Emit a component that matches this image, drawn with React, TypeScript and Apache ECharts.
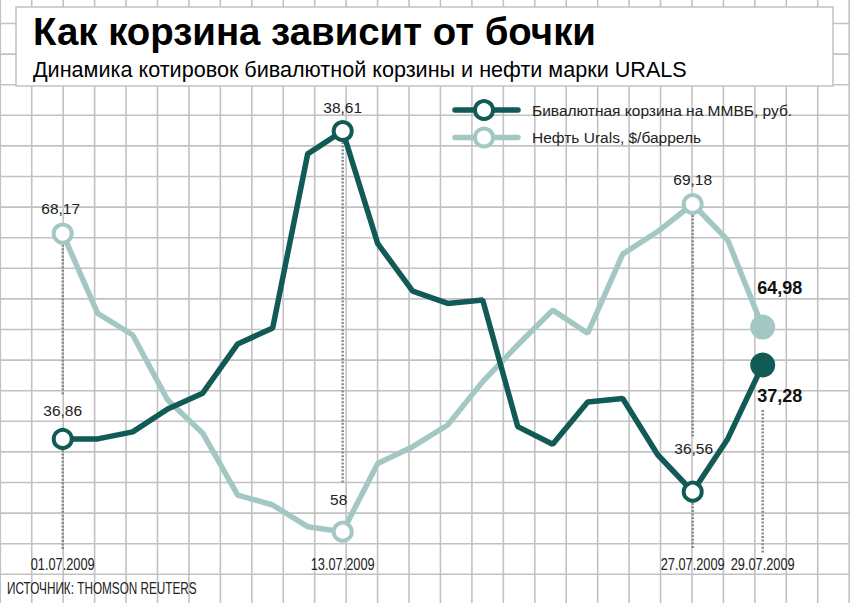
import React, { useEffect, useRef } from "react";
import * as echarts from "echarts";

// Trading days of July 2009
const dates = [
  "01.07.2009", "02.07.2009", "03.07.2009", "06.07.2009", "07.07.2009",
  "08.07.2009", "09.07.2009", "10.07.2009", "13.07.2009", "14.07.2009",
  "15.07.2009", "16.07.2009", "17.07.2009", "20.07.2009", "21.07.2009",
  "22.07.2009", "23.07.2009", "24.07.2009", "27.07.2009", "28.07.2009",
  "29.07.2009",
];
// Бивалютная корзина на ММВБ, руб.
const basket = [
  36.86, 36.86, 36.9, 37.03, 37.12, 37.4, 37.49, 38.48, 38.61, 37.97, 37.7,
  37.63, 37.65, 36.93, 36.83, 37.07, 37.09, 36.77, 36.56, 36.86, 37.28,
];
// Нефть Urals, $/баррель
const oil = [
  68.17, 65.45, 64.71, 62.49, 61.36, 59.25, 58.91, 58.17, 58.0, 60.33, 60.9,
  61.64, 63.12, 64.37, 65.56, 64.77, 67.47, 68.24, 69.18, 67.95, 64.98,
];
const shownDates = ["01.07.2009", "13.07.2009", "27.07.2009", "29.07.2009"];
const markedIdx = [0, 8, 18];
const lastIdx = 20;

const TITLE = "Как корзина зависит от бочки";
const SUBTITLE = "Динамика котировок бивалютной корзины и нефти марки URALS";
const LEGEND = ["Бивалютная корзина на ММВБ, руб.", "Нефть Urals, $/баррель"];
const SOURCE = "ИСТОЧНИК: THOMSON REUTERS";

const DARK = "#115a55";
const LIGHT = "#a3c7c3";
const GRIDC = "#c2c2c2";
const FONT = "'Liberation Sans', Arial, sans-serif";

const darkOffsets: Record<number, number[]> = { 0: [0, -28], 8: [0, -23], 18: [1, -43], 20: [17, 31] };
const lightOffsets: Record<number, number[]> = { 0: [-2, -25], 8: [-4, -32], 18: [0, -24], 20: [17, -39] };

function buildData(values: number[], color: string, offsets: Record<number, number[]>) {
  return values.map((v, i) => {
    if (markedIdx.includes(i)) {
      return {
        value: v,
        symbolSize: 18,
        itemStyle: { color: "#fff", borderColor: color, borderWidth: 4 },
        label: { show: true, offset: offsets[i] },
      };
    }
    if (i === lastIdx) {
      return {
        value: v,
        symbolSize: 25,
        itemStyle: { color: color, borderWidth: 0 },
        label: { show: true, offset: offsets[i], fontWeight: "bold", fontSize: 18, color: "#111" },
      };
    }
    return { value: v, symbolSize: 0 };
  });
}

export default function App() {
  const ref = useRef<HTMLDivElement>(null);
  useEffect(() => {
    if (!ref.current) return;
    const chart = echarts.init(ref.current, undefined, { renderer: "svg" });
    const labelBase = {
      show: false,
      position: "inside",
      align: "center",
      verticalAlign: "middle",
      fontFamily: FONT,
      fontSize: 15.5,
      color: "#222",
      formatter: (p: any) => String(p.value).replace(".", ","),
    };
    chart.setOption({
      animation: false,
      backgroundColor: "#fff",
      grid: { left: 62.7, right: 87.3, top: 0, bottom: 0 },
      xAxis: {
        type: "category",
        data: dates,
        boundaryGap: false,
        show: false,
      },
      yAxis: [
        { type: "value", min: 35.9274, max: 39.3545, show: false },
        { type: "value", min: 55.567, max: 76.14, show: false },
      ],
      series: [
        {
          name: LEGEND[1],
          type: "line",
          yAxisIndex: 1,
          data: buildData(oil, LIGHT, lightOffsets),
          symbol: "circle",
          showSymbol: true,
          showAllSymbol: true,
          lineStyle: { color: LIGHT, width: 5.5, cap: "round" },
          itemStyle: { color: LIGHT },
          label: labelBase,
          z: 3,
        },
        {
          name: LEGEND[0],
          type: "line",
          yAxisIndex: 0,
          data: buildData(basket, DARK, darkOffsets),
          symbol: "circle",
          showSymbol: true,
          showAllSymbol: true,
          lineStyle: { color: DARK, width: 5.5, cap: "round" },
          itemStyle: { color: DARK },
          label: labelBase,
          z: 4,
        },
      ],
    });

    const px = (series: number, i: number, v: number) =>
      chart.convertToPixel({ seriesIndex: series }, [i, v]) as number[];

    const els: any[] = [];
    // background squared grid
    for (let k = 0; k <= 27; k++) {
      const x = 0.3 + 31.44 * k;
      els.push({ type: "line", z: 0, silent: true, shape: { x1: x, y1: 0, x2: x, y2: 603 }, style: { stroke: GRIDC, lineWidth: 1.6 } });
    }
    for (let k = 0; k <= 18; k++) {
      const y = 23.5 + 30.6 * k;
      els.push({ type: "line", z: 0, silent: true, shape: { x1: 0, y1: y, x2: 850, y2: y }, style: { stroke: GRIDC, lineWidth: 1.6 } });
    }
    // title box
    els.push({ type: "rect", z: 1, shape: { x: 16, y: 7, width: 817, height: 79 }, style: { fill: "#fff", stroke: GRIDC, lineWidth: 1.5 } });
    els.push({ type: "text", z: 2, x: 33, y: 31.5, style: { text: TITLE, fontFamily: FONT, fontWeight: "bold", fontSize: 38.4, fill: "#000", align: "left", verticalAlign: "middle" } });
    els.push({ type: "text", z: 2, x: 33, y: 69.2, style: { text: SUBTITLE, fontFamily: FONT, fontSize: 21.6, fill: "#000", align: "left", verticalAlign: "middle" } });

    // legend
    const legendRows = [
      { y: 110, color: DARK, text: LEGEND[0] },
      { y: 137.5, color: LIGHT, text: LEGEND[1] },
    ];
    legendRows.forEach((r) => {
      els.push({ type: "line", z: 2, shape: { x1: 455, y1: r.y, x2: 518, y2: r.y }, style: { stroke: r.color, lineWidth: 5.5, lineCap: "round" } });
      els.push({ type: "circle", z: 3, shape: { cx: 484, cy: r.y, r: 9 }, style: { fill: "#fff", stroke: r.color, lineWidth: 4 } });
      els.push({ type: "text", z: 3, x: 532, y: r.y, style: { text: r.text, fontFamily: FONT, fontSize: 15.5, fill: "#222", align: "left", verticalAlign: "middle" } });
    });

    // dotted drop lines
    const dot = (x: number, y1: number, y2: number) =>
      els.push({ type: "line", z: 1, silent: true, shape: { x1: x, y1, x2: x, y2 }, style: { stroke: "#8c8c8c", lineWidth: 2.5, lineDash: [2, 1.6] } });
    const BASE = 549;
    {
      const d = px(1, 0, basket[0]);
      const o = px(0, 0, oil[0]);
      dot(d[0], o[1] + 11, d[1] - 44);
      dot(d[0], d[1] + 11, BASE);
    }
    {
      const d = px(1, 8, basket[8]);
      const o = px(0, 8, oil[8]);
      dot(d[0], d[1] + 11, o[1] - 48);
    }
    {
      const d = px(1, 18, basket[18]);
      const o = px(0, 18, oil[18]);
      dot(d[0], o[1] + 11, d[1] - 55);
      dot(d[0], d[1] + 11, BASE);
    }
    {
      const d = px(1, 20, basket[20]);
      dot(d[0], d[1] + 45, 554);
    }

    // date labels
    shownDates.forEach((dt) => {
      const i = dates.indexOf(dt);
      const p = px(1, i, basket[i]);
      els.push({ type: "text", z: 3, x: p[0], y: 564, scaleX: 0.8, style: { text: dt, x: 0, y: 0, fontFamily: FONT, fontSize: 16, fill: "#222", align: "center", verticalAlign: "middle" } });
    });
    els.push({ type: "text", z: 3, x: 7, y: 588, scaleX: 0.735, style: { text: SOURCE, x: 0, y: 0, fontFamily: FONT, fontSize: 16, fill: "#222", align: "left", verticalAlign: "middle" } });

    chart.setOption({ graphic: { elements: els } });

    return () => chart.dispose();
  }, []);
  return <div ref={ref} style={{ position: "absolute", left: 0, top: 0, width: 850, height: 603 }} />;
}
